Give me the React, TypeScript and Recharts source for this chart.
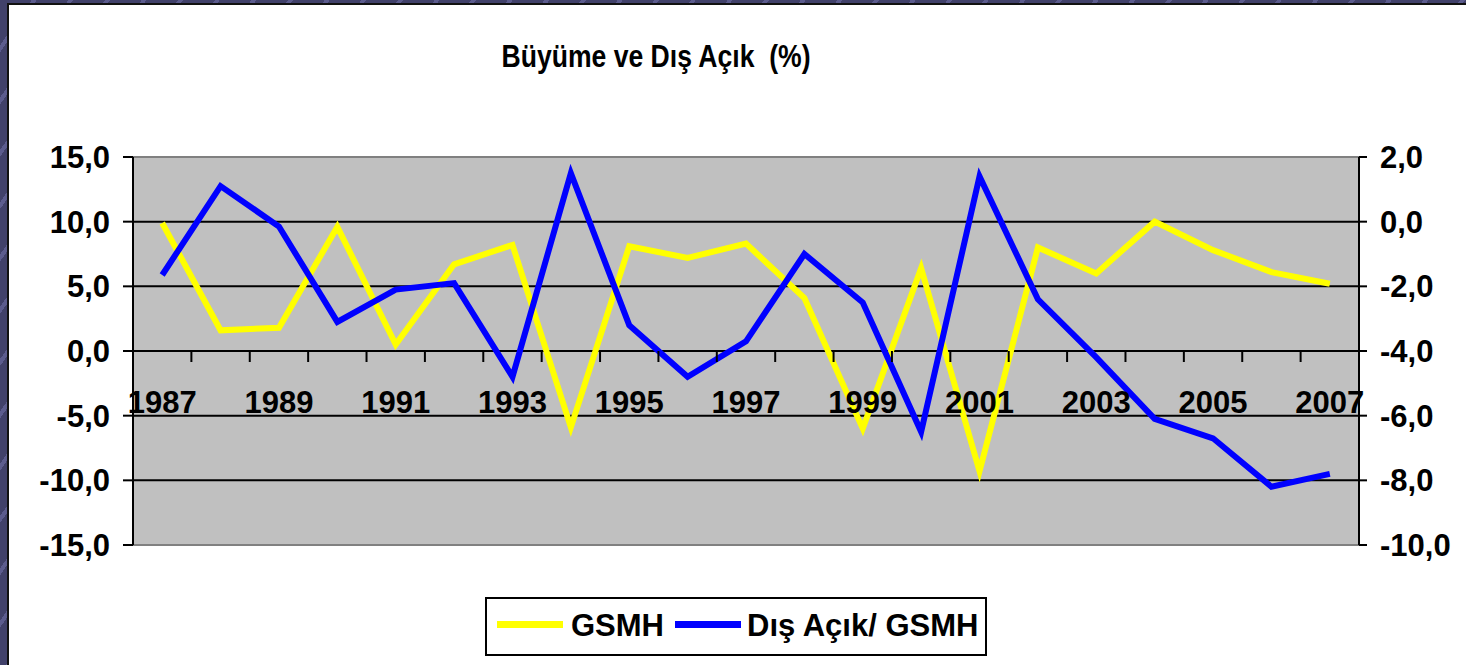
import React from 'react';
import { LineChart, Line, XAxis, YAxis, CartesianGrid, ReferenceLine, Legend } from 'recharts';

const years = ['1987', '1988', '1989', '1990', '1991', '1992', '1993', '1994', '1995', '1996', '1997',
  '1998', '1999', '2000', '2001', '2002', '2003', '2004', '2005', '2006', '2007'];
// büyüme (sol eksen)
const gsmh = [9.9, 1.6, 1.8, 9.6, 0.5, 6.7, 8.2, -5.9, 8.1, 7.2, 8.3, 4.1, -6.0, 6.4, -9.3, 8.0, 6.0, 10.0, 7.8, 6.1, 5.2];
// dış açık / GSMH (sağ eksen)
const disAcik = [-1.65, 1.1, -0.15, -3.1, -2.1, -1.9, -4.8, 1.5, -3.2, -4.8, -3.7, -1.0, -2.5, -6.5, 1.4, -2.4, -4.2, -6.1, -6.7, -8.2, -7.8];
const leftTicks = [-15, -10, -5, 0, 5, 10, 15];
const rightTicks = [-10, -8, -6, -4, -2, 0, 2];

const data = years.map((y, i) => ({ year: y, gsmh: gsmh[i], acik: disAcik[i] }));

const W = 1466;
const H = 665;
const TOP = 157;
const LEFT_W = 133;
const RIGHT_W = 107;
const X_H = 120;
const PLOT_H = H - TOP - X_H;
const BAND = (W - LEFT_W - RIGHT_W) / years.length;
const FONT = '"Liberation Sans", Arial, Helvetica, sans-serif';
const FS = 31;

const fmt = (v: number) => v.toFixed(1).replace('.', ',');

const XTick = (props: any) => {
  const { x, y, payload, index } = props;
  const zeroY = y - PLOT_H / 2; // x ekseni 0 çizgisinde
  return (
    <g>
      {index < years.length - 1 && (
        <line x1={x + BAND / 2} x2={x + BAND / 2} y1={zeroY} y2={zeroY + 11} stroke="#000" strokeWidth={2} />
      )}
      {index % 2 === 0 && (
        <text x={x} y={zeroY + 62} textAnchor="middle" fill="#000" fontSize={FS} fontWeight={700} fontFamily={FONT}>
          {payload.value}
        </text>
      )}
    </g>
  );
};

const LegendBox = () => (
  <div style={{ position: 'relative', width: 502, height: 59, boxSizing: 'border-box', border: '2px solid #000',
    background: '#fff', fontFamily: FONT, fontWeight: 700, fontSize: FS, color: '#000' }}>
    <div style={{ position: 'absolute', left: 10, top: 22, width: 66, height: 7, background: '#FFFF00' }} />
    <span style={{ position: 'absolute', left: 84, top: -1, lineHeight: '55px' }}>GSMH</span>
    <div style={{ position: 'absolute', left: 188, top: 22, width: 66, height: 7, background: '#0000FF' }} />
    <span style={{ position: 'absolute', left: 260, top: -1, lineHeight: '55px', whiteSpace: 'pre' }}>Dış Açık/ GSMH</span>
  </div>
);

export default function App() {
  return (
    <div style={{ position: 'fixed', left: 0, top: 0, width: W, height: H, overflow: 'hidden',
      background: 'repeating-linear-gradient(125deg, #41416a 0px, #41416a 26px, #5c5c8e 26px, #5c5c8e 30px)' }}>
      <div style={{ position: 'absolute', left: 7, top: 3, width: W, height: H + 20, background: '#fff',
        border: '2px solid #111' }} />
      <div style={{ position: 'absolute', left: 0, top: 40, width: 1312, textAlign: 'center', fontFamily: FONT,
        fontWeight: 700, fontSize: 32, lineHeight: '32px', whiteSpace: 'pre', transform: 'scaleX(0.83)',
        transformOrigin: '656px 0' }}>
        Büyüme ve Dış Açık  (%)
      </div>
      <div style={{ position: 'absolute', left: 0, top: 0 }}>
        <LineChart width={W} height={H} data={data} margin={{ top: TOP, right: 0, bottom: 0, left: 0 }}>
          <CartesianGrid yAxisId="left" vertical={false} stroke="#000" strokeWidth={2} fill="#C0C0C0"
            fillOpacity={1} horizontalValues={[10, 5, 0, -5, -10]} />
          <ReferenceLine yAxisId="left" y={15} stroke="#808080" strokeWidth={2} />
          <ReferenceLine yAxisId="left" y={-15} stroke="#808080" strokeWidth={2} />
          <YAxis yAxisId="left" orientation="left" width={LEFT_W} domain={[-15, 15]} ticks={leftTicks}
            interval={0} tickFormatter={fmt} tickSize={10} tickMargin={13}
            axisLine={{ stroke: '#000', strokeWidth: 2 }} tickLine={{ stroke: '#000', strokeWidth: 2 }}
            tick={{ fill: '#000', fontSize: FS, fontWeight: 700, fontFamily: FONT }} />
          <YAxis yAxisId="right" orientation="right" width={RIGHT_W} domain={[-10, 2]} ticks={rightTicks}
            interval={0} tickFormatter={fmt} tickSize={8} tickMargin={13}
            axisLine={{ stroke: '#000', strokeWidth: 2 }} tickLine={{ stroke: '#000', strokeWidth: 2 }}
            tick={{ fill: '#000', fontSize: FS, fontWeight: 700, fontFamily: FONT }} />
          <Line yAxisId="left" dataKey="gsmh" stroke="#FFFF00" strokeWidth={6} dot={false}
            isAnimationActive={false} name="GSMH" />
          <Line yAxisId="right" dataKey="acik" stroke="#0000FF" strokeWidth={6} dot={false}
            isAnimationActive={false} name="Dış Açık/ GSMH" />
          <XAxis dataKey="year" height={X_H} interval={0} axisLine={false} tickLine={false} tickSize={0}
            tickMargin={0} padding={{ left: BAND / 2, right: BAND / 2 }} tick={<XTick />} />
          <Legend verticalAlign="middle" align="center" layout="horizontal" content={() => <LegendBox />}
            wrapperStyle={{ left: 485, top: 597, width: 502, height: 59 }} />
        </LineChart>
      </div>
    </div>
  );
}
